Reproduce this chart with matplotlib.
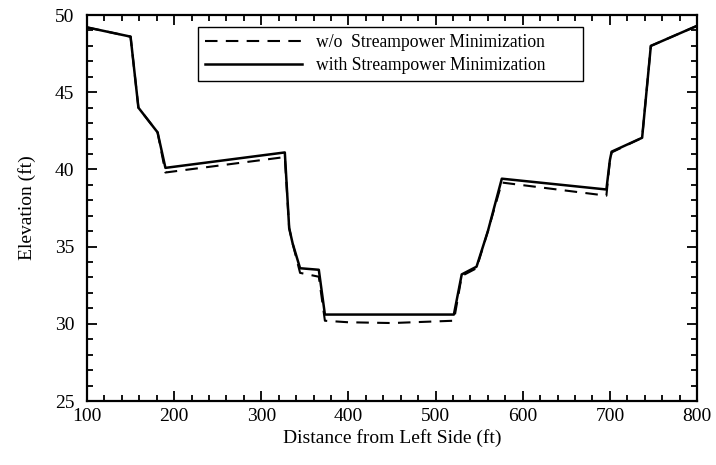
import matplotlib.pyplot as plt
from matplotlib.ticker import MultipleLocator

plt.rcParams['font.family'] = ['Liberation Serif', 'DejaVu Serif']

# without streampower minimization (dashed)
x_wo = [100, 150, 159, 181, 190, 327, 332, 336, 344.5, 366, 373, 400, 450, 521,
        530, 547, 560, 576, 696, 700, 702, 737, 747, 800]
y_wo = [49.2, 48.6, 44.0, 42.4, 39.8, 40.8, 36.2, 35.2, 33.3, 33.05, 30.2, 30.1, 30.05, 30.2,
        33.1, 33.6, 36.0, 39.15, 38.3, 40.6, 41.1, 42.05, 48.0, 49.3]

# with streampower minimization (solid)
x_w = [100, 150, 159, 181, 190, 327, 332, 336, 344.5, 366, 373, 521,
       530, 547, 560, 576, 696, 700, 702, 737, 747, 800]
y_w = [49.2, 48.6, 44.0, 42.4, 40.1, 41.1, 36.2, 35.2, 33.6, 33.5, 30.6, 30.6,
       33.2, 33.7, 36.0, 39.4, 38.7, 40.6, 41.15, 42.05, 48.0, 49.3]

fig = plt.figure(figsize=(7.16, 4.65), dpi=100)
ax = fig.add_axes([0.1215, 0.1376, 0.852, 0.8301])

ax.plot(x_wo, y_wo, color='black', lw=1.5, linestyle=(0, (6, 4)),
        label='w/o  Streampower Minimization')
ax.plot(x_w, y_w, color='black', lw=1.8, label='with Streampower Minimization')

ax.set_xlim(100, 800)
ax.set_ylim(25, 50)
ax.xaxis.set_major_locator(MultipleLocator(100))
ax.xaxis.set_minor_locator(MultipleLocator(20))
ax.yaxis.set_major_locator(MultipleLocator(5))
ax.yaxis.set_minor_locator(MultipleLocator(1))
ax.tick_params(which='both', direction='in', top=True, right=True, labelsize=14, width=1.3)
ax.tick_params(which='major', length=7)
ax.tick_params(which='minor', length=4)
ax.tick_params(axis='y', pad=9)
ax.tick_params(axis='x', pad=5)
for s in ax.spines.values():
    s.set_linewidth(1.6)

ax.set_xlabel('Distance from Left Side (ft)', fontsize=14, labelpad=3)
ax.set_ylabel('Elevation (ft)', fontsize=14, labelpad=14)

leg = ax.legend(loc='upper left', bbox_to_anchor=(0.182, 0.798, 0.631, 0.171),
                mode='expand', fontsize=12.7, handlelength=5.5, fancybox=False,
                edgecolor='black', framealpha=1, borderaxespad=0, labelspacing=0.35)
leg.get_frame().set_linewidth(1.0)

fig.savefig('out.png', dpi=100)
